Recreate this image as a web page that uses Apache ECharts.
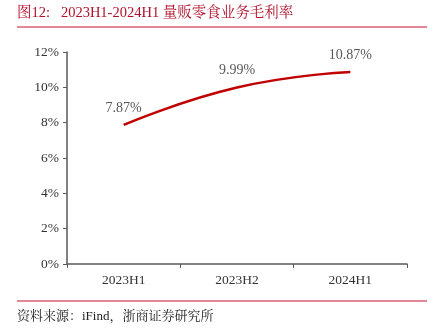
<!DOCTYPE html>
<html><head><meta charset="utf-8">
<script src="https://cdn.jsdelivr.net/npm/echarts@6/dist/echarts.min.js"></script>
<style>html,body{margin:0;padding:0;background:#fff}#c{width:441px;height:328px}</style>
</head><body><div id="c"></div>
<script>
var categories = ['2023H1', '2023H2', '2024H1'];
var margins = [7.87, 9.99, 10.87];
var yTicks = [0, 2, 4, 6, 8, 10, 12];
var titleText = '图12:   2023H1-2024H1 量贩零食业务毛利率';
var sourceText = '资料来源：iFind，浙商证券研究所';

var serif = '"Liberation Serif", "Noto Serif CJK SC", "Noto Sans CJK SC", serif';
var chart = echarts.init(document.getElementById('c'));
chart.setOption({
  animation: false,
  backgroundColor: '#fff',
  grid: {left: 67, right: 34, top: 52, bottom: 64},
  xAxis: {
    type: 'category', data: categories, boundaryGap: true,
    axisLine: {lineStyle: {color: '#595959', width: 1.5}},
    axisTick: {show: true, length: 4, lineStyle: {color: '#595959'}},
    axisLabel: {color: '#333', fontFamily: serif, fontSize: 13.5, margin: 10}
  },
  yAxis: {
    type: 'value', min: yTicks[0], max: yTicks[yTicks.length-1], interval: 2,
    axisLine: {show: true, lineStyle: {color: '#595959', width: 1.5}},
    axisTick: {show: true, length: 4, lineStyle: {color: '#595959'}},
    splitLine: {show: false},
    axisLabel: {color: '#333', fontFamily: serif, fontSize: 13.5, margin: 8, formatter: function(v){return v + '%';}}
  },
  series: [{
    type: 'line', data: margins, smooth: true, symbol: 'circle', symbolSize: 2, showSymbol: true,
    itemStyle: {color: 'rgba(0,0,0,0)', borderWidth: 0},
    lineStyle: {color: '#C00000', width: 2.5},
    label: {show: true, position: 'top', distance: 9, color: '#595959', fontFamily: serif, fontSize: 14,
      formatter: function(p){return p.value.toFixed(2) + '%';}}
  }],
  graphic: [
    {type: 'text', left: 17, top: 6, style: {text: titleText, fill: '#B0102A', font: '14.5px ' + serif}},
    {type: 'line', shape: {x1: 17, y1: 27, x2: 427, y2: 27}, style: {stroke: '#C8102E', lineWidth: 1}},
    {type: 'line', shape: {x1: 17, y1: 301, x2: 427, y2: 301}, style: {stroke: '#C8102E', lineWidth: 1}},
    {type: 'text', left: 17, top: 310, style: {text: sourceText, fill: '#222', font: '13px ' + serif}}
  ]
});
</script></body></html>
